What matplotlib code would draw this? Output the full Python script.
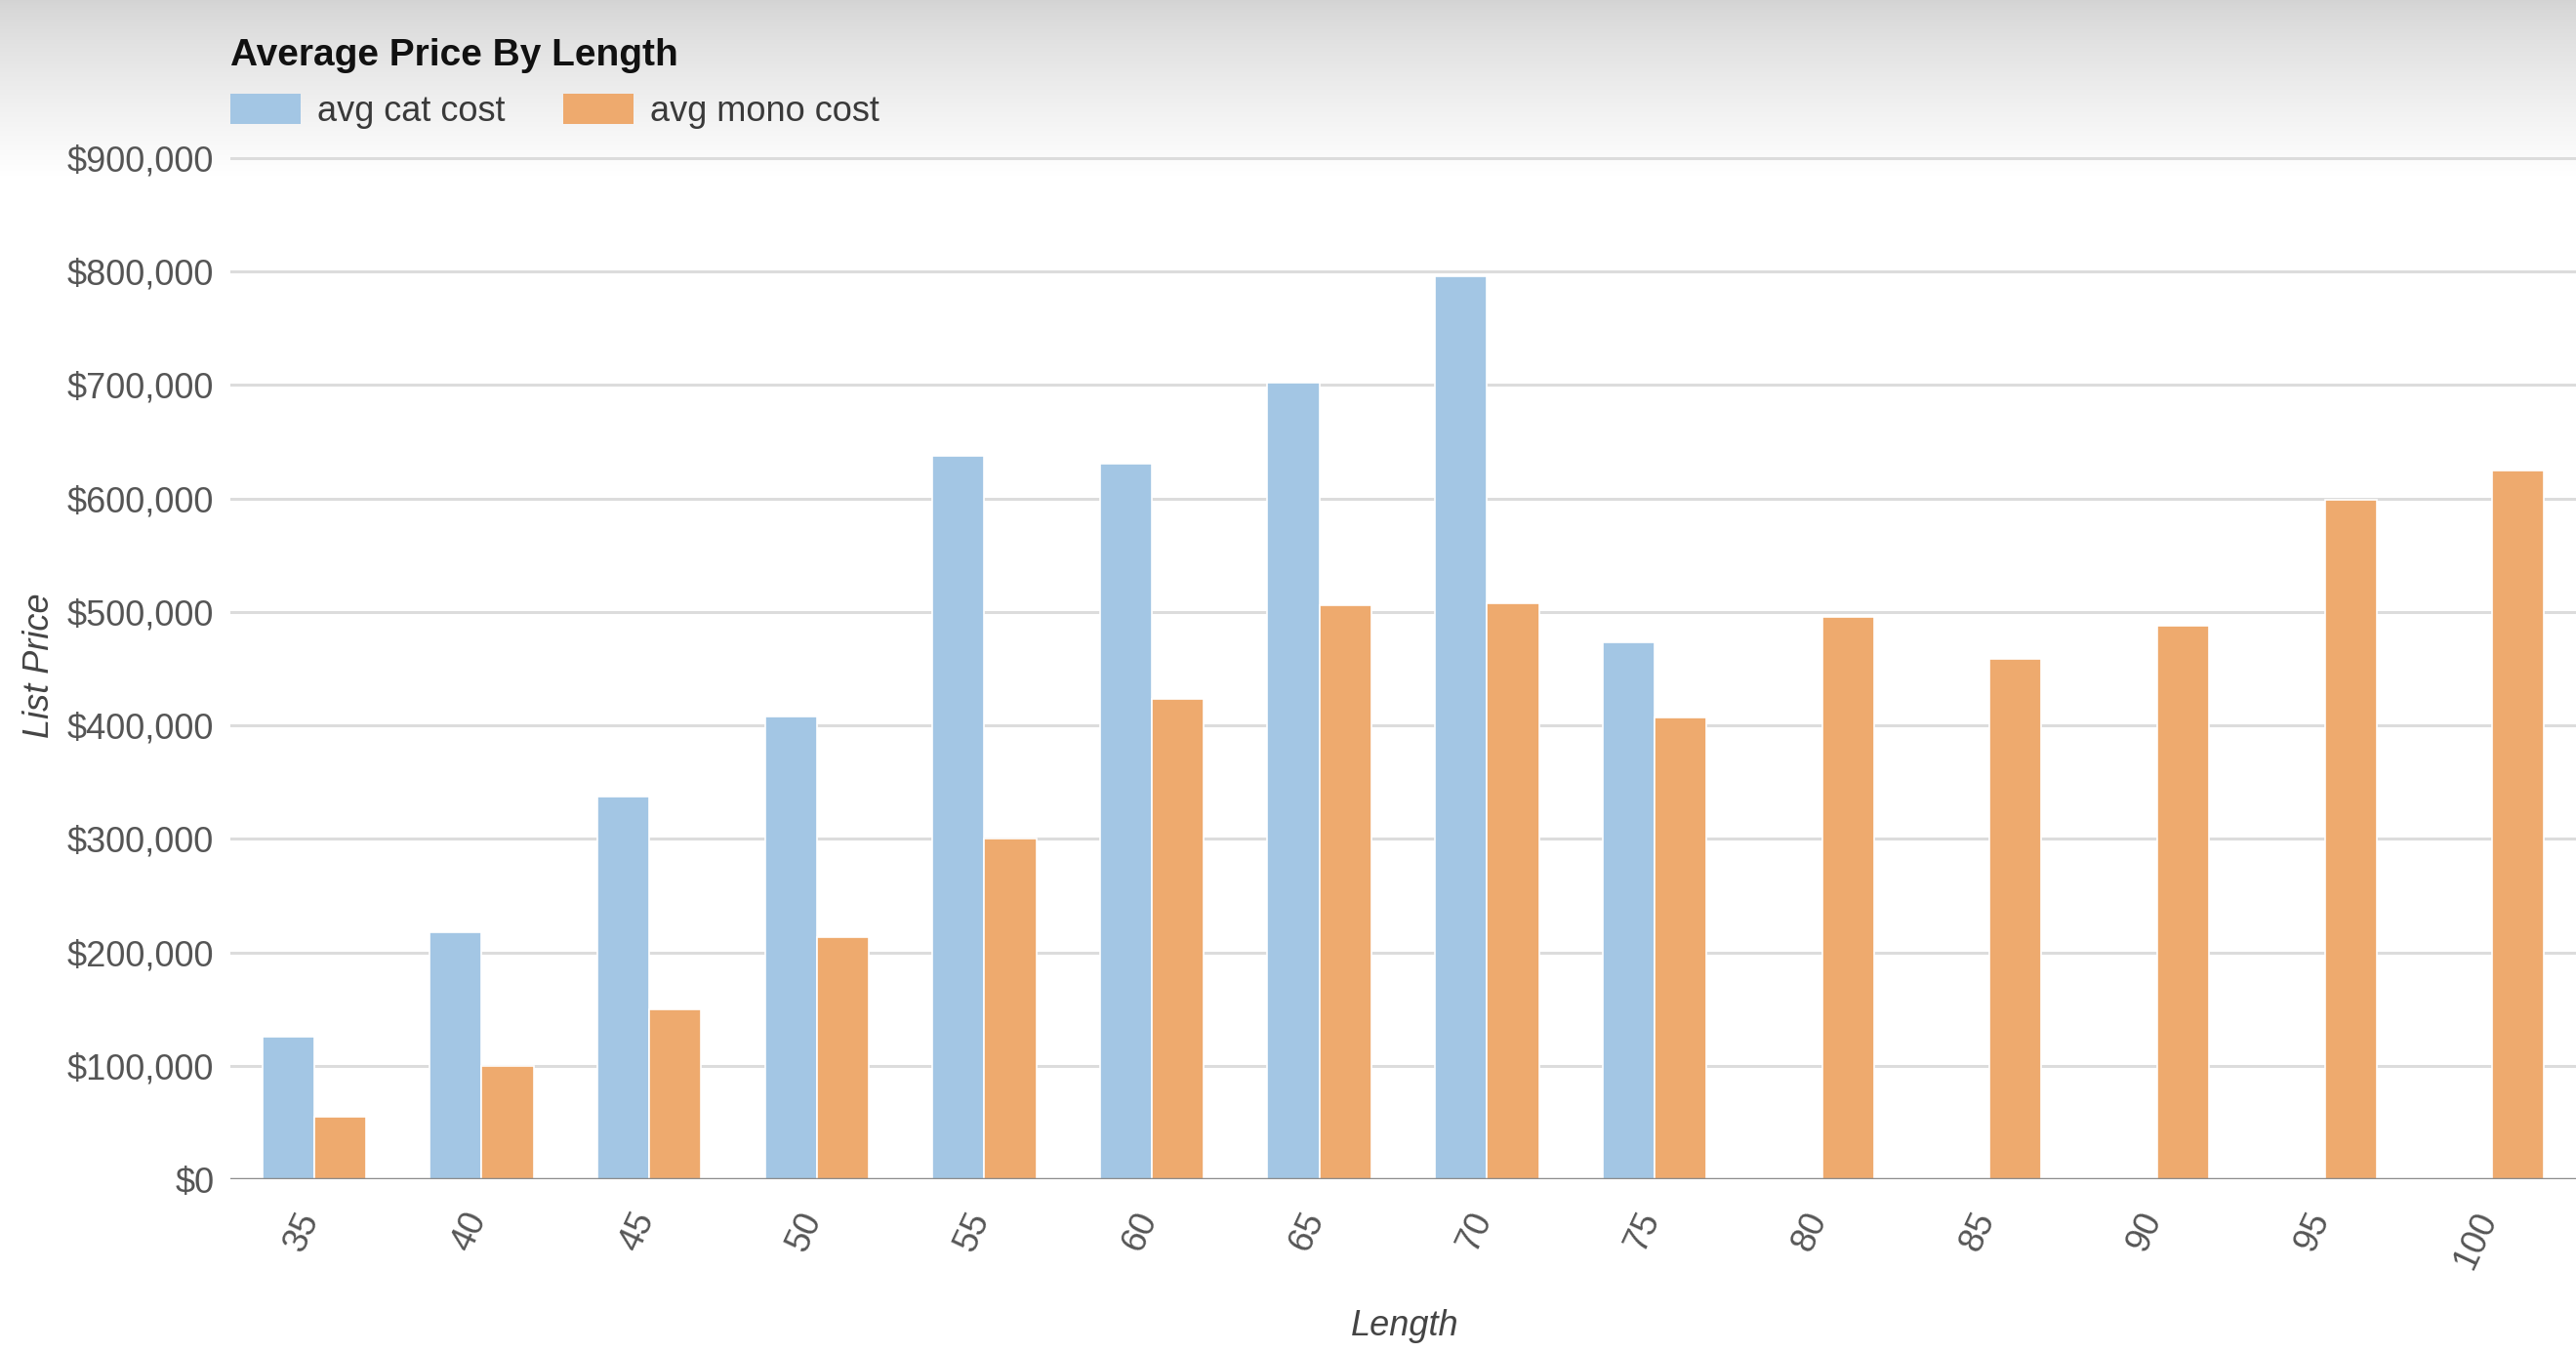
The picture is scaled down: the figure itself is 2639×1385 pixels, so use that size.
import matplotlib
matplotlib.use("Agg")
import matplotlib.pyplot as plt
import matplotlib.transforms as mtransforms
import numpy as np
from matplotlib.patches import Patch
from matplotlib.ticker import FuncFormatter

lengths = ["35", "40", "45", "50", "55", "60", "65", "70", "75", "80", "85", "90", "95", "100"]
avg_cat_cost = [126000, 218000, 337000, 408000, 638000, 631000, 702000, 796000, 473000, 0, 0, 0, 0, 0]
avg_mono_cost = [55000, 100000, 150000, 213000, 300000, 423000, 506000, 508000, 407000, 496000, 459000, 488000, 599000, 625000]
series_names = ["avg cat cost", "avg mono cost"]
y_ticks = [0, 100000, 200000, 300000, 400000, 500000, 600000, 700000, 800000, 900000]

plt.rcParams['font.family'] = ['Liberation Sans', 'DejaVu Sans']

W, H = 2639, 1385
fig = plt.figure(figsize=(W / 100, H / 100), dpi=100)
fig.patch.set_facecolor('white')

# top gradient (screenshot shading)
bg = fig.add_axes([0, 1 - 180 / H, 1, 180 / H], zorder=-10)
grad = np.linspace(0, 1, 256)
cols = np.zeros((256, 1, 3))
start = np.array([0.83, 0.83, 0.83])
for i in range(256):
    t = min(1.0, grad[i] ** 0.8)
    cols[i, 0, :] = start + (1 - start) * t
bg.imshow(cols, aspect='auto', extent=[0, 1, 1, 0])
bg.set_axis_off()

ax_left = 236 / W
ax_bottom = 1 - 1208 / H
ax_top_px = 156
ax = fig.add_axes([ax_left, ax_bottom, 1 - ax_left, (1208 - ax_top_px) / H])
ax.set_facecolor('none')

blue = '#a3c6e4'
orange = '#eeaa6e'
x = np.arange(len(lengths))
bw = 0.31
ax.bar(x - bw / 2, avg_cat_cost, width=bw, color=blue, edgecolor='white', linewidth=1.2, zorder=3)
ax.bar(x + bw / 2, avg_mono_cost, width=bw, color=orange, edgecolor='white', linewidth=1.2, zorder=3)

ymax = 900000 * (1208 - ax_top_px) / (1208 - 162)
ax.set_ylim(0, ymax)
ax.set_xlim(-0.5, len(lengths) - 0.5)
ax.set_yticks(y_ticks)
ax.yaxis.set_major_formatter(FuncFormatter(lambda v, p: "${:,.0f}".format(v)))
ax.grid(axis='y', color='#dcdcdc', linewidth=2.2, zorder=0)
ax.axhline(0, color='#8c8c8c', linewidth=2.5, zorder=4)
for s in ax.spines.values():
    s.set_visible(False)

ax.set_xticks(x)
ax.set_xticklabels(lengths, rotation=65, ha='right', rotation_mode='default')
ax.tick_params(axis='both', length=0, labelsize=26, labelcolor='#555555')
ax.tick_params(axis='x', pad=20)
ax.tick_params(axis='y', pad=12)
offset = mtransforms.ScaledTranslation(12 / 100, 0, fig.dpi_scale_trans)
for lab in ax.get_xticklabels():
    lab.set_transform(lab.get_transform() + offset)

ax.set_xlabel("Length", fontsize=26, fontstyle='italic', color='#444444')
ax.xaxis.set_label_coords(0.5006, -0.126)
ax.set_ylabel("List Price", fontsize=26, fontstyle='italic', color='#444444')
ax.yaxis.set_label_coords(-0.074, 0.5)

fig.text(236 / W, 1 - 57 / H, "Average Price By Length", fontsize=28, fontweight='bold',
         color='#111111', ha='left', va='center')

handles = [Patch(facecolor=blue, edgecolor='none'), Patch(facecolor=orange, edgecolor='none')]
leg = fig.legend(handles, series_names, loc='upper left', bbox_to_anchor=(236 / W, 1 - 96 / H),
                 ncol=2, frameon=False, fontsize=26, handlelength=2.0, handleheight=0.95,
                 handletextpad=0.47, columnspacing=1.64, borderaxespad=0, borderpad=0)
for t in leg.get_texts():
    t.set_color('#3a3a3a')

fig.savefig("out.png", dpi=100)
